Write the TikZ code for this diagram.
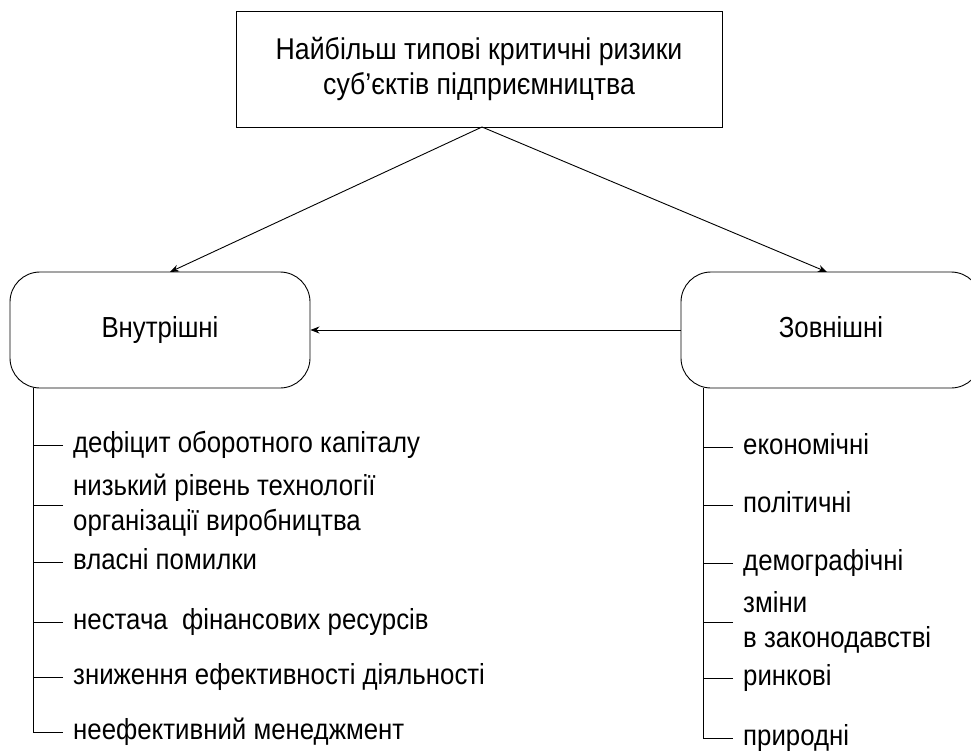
\documentclass[tikz,border=0pt]{standalone}
\usepackage{fontspec}
\setmainfont[FakeStretch=0.89]{Liberation Sans}
\usetikzlibrary{arrows.meta}
\begin{document}
\begin{tikzpicture}[x=1pt,y=-1pt,
  every node/.style={font=\fontsize{29}{35}\selectfont, align=center},
  one/.style={text height=21pt, text depth=6pt},
  box/.style={draw, one, line width=0.9pt, minimum width=300pt, minimum height=116pt, rounded corners=30pt},
  item/.style={anchor=west, inner xsep=10pt, inner ysep=0pt, align=left},
  arr/.style={-{Stealth[length=9pt,width=7pt]}, line width=0.9pt},
  ln/.style={line width=0.9pt}]
\useasboundingbox (0,0) rectangle (971,751);
\node[draw, line width=0.9pt, minimum width=486pt, minimum height=116pt,
  font=\fontsize{30}{35}\selectfont] (top) at (479,69)
  {Найбільш типові критичні ризики\\суб’єктів підприємництва};
\node[box] (in) at (160,330) {Внутрішні};
\node[box] (ex) at (831,330) {Зовнішні};
\coordinate (topc) at (482,127);
\coordinate (inT) at (170,272);
\coordinate (exT) at (827,272);
\draw[arr] (topc) -- (inT);
\draw[arr] (topc) -- (exT);
\draw[arr] (ex.west) -- (in.east);
% internal
\coordinate (Ltop) at (33,388);
\node[item,one] (l1) at (63,445) {дефіцит оборотного капіталу};
\node[item] (l2) at (63,505) {низький рівень технології\\організації виробництва};
\node[item,one] (l3) at (63,562) {власні помилки};
\node[item,one] (l4) at (63,622) {нестача\ \ фінансових ресурсів};
\node[item,one] (l5) at (63,677) {зниження ефективності діяльності};
\node[item,one] (l6) at (63,732) {неефективний менеджмент};
\draw[ln] (Ltop) |- (l6.west);
\foreach \n in {l1,l2,l3,l4,l5} \draw[ln] (\n.west) -- (\n.west -| Ltop);
% external
\coordinate (Rtop) at (703,388);
\node[item,one] (r1) at (733,447) {економічні};
\node[item,one] (r2) at (733,505) {політичні};
\node[item,one] (r3) at (733,563) {демографічні};
\node[item] (r4) at (733,622) {зміни\\в законодавстві};
\node[item,one] (r5) at (733,678) {ринкові};
\node[item,one] (r6) at (733,738) {природні};
\draw[ln] (Rtop) |- (r6.west);
\foreach \n in {r1,r2,r3,r4,r5} \draw[ln] (\n.west) -- (\n.west -| Rtop);
\end{tikzpicture}
\end{document}
